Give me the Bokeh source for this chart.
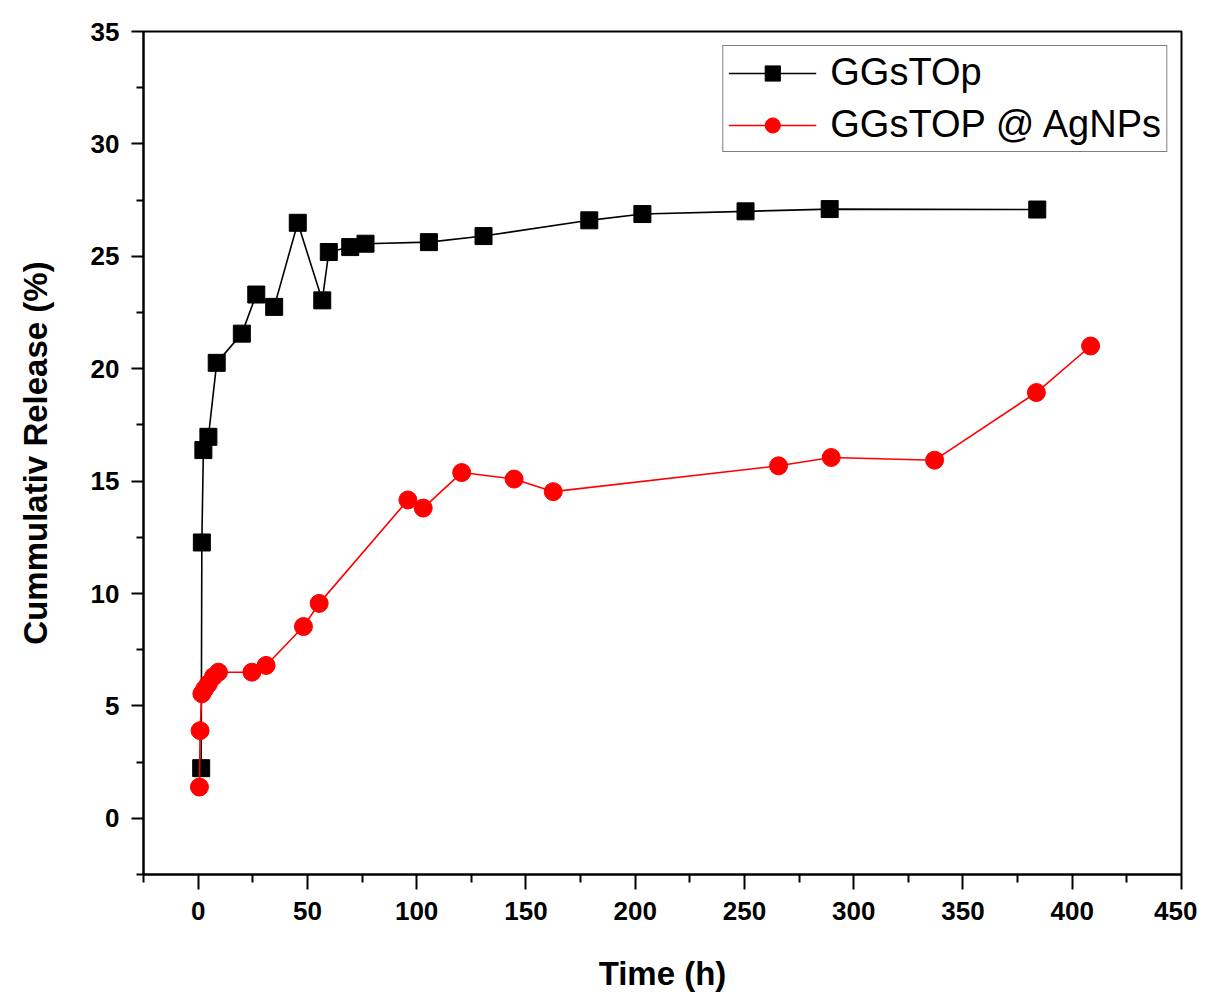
from bokeh.plotting import figure
from bokeh.models import Range1d, FixedTicker, Legend, LegendItem
from bokeh.embed import file_html
from bokeh.resources import INLINE

# ---- data ----
t_ggstop = [1.4, 1.7, 2.4, 4.7, 8.5, 20.0, 26.6, 34.8, 45.6, 56.8, 59.8, 69.6, 76.6,
            105.6, 130.6, 179.0, 203.3, 250.5, 289.0, 384.0]
rel_ggstop = [2.23, 12.27, 16.38, 16.97, 20.26, 21.56, 23.30, 22.75, 26.49, 23.04, 25.19,
              25.41, 25.56, 25.63, 25.90, 26.60, 26.88, 27.00, 27.10, 27.08]

t_agnps = [0.6, 0.9, 1.7, 3.0, 4.7, 7.0, 9.3, 24.6, 31.1, 48.2, 55.4, 96.0, 103.0,
           120.6, 144.6, 162.5, 265.6, 289.7, 337.0, 383.6, 408.4]
rel_agnps = [1.39, 3.90, 5.54, 5.75, 5.98, 6.30, 6.50, 6.50, 6.80, 8.53, 9.56, 14.16, 13.80,
             15.38, 15.09, 14.53, 15.68, 16.05, 15.93, 18.94, 21.01]

x_major = [0, 50, 100, 150, 200, 250, 300, 350, 400, 450]
x_minor = [-25, 25, 75, 125, 175, 225, 275, 325, 375, 425]
y_major = [0, 5, 10, 15, 20, 25, 30, 35]
y_minor = [-2.5, 2.5, 7.5, 12.5, 17.5, 22.5, 27.5, 32.5]

label_a = "GGsTOp"
label_b = "GGsTOP @ AgNPs"
x_title = "Time (h)"
y_title = "Cummulativ Release (%)"

FONT = "Liberation Sans"

p = figure(frame_width=1038, frame_height=843, output_backend="svg",
           toolbar_location=None, x_range=Range1d(-25, 450), y_range=Range1d(-2.5, 35),
           min_border_left=143, min_border_top=31, min_border_right=16, min_border_bottom=100,
           background_fill_color="white", border_fill_color="white")

p.xgrid.visible = False
p.ygrid.visible = False
p.outline_line_color = "black"
p.outline_line_width = 2
p.outline_line_alpha = 1

# lines + markers
la = p.line(t_ggstop, rel_ggstop, line_color="black", line_width=1.6)
sa = p.scatter(t_ggstop, rel_ggstop, marker="square", size=17, fill_color="black",
               line_color="black")
lb = p.line(t_agnps, rel_agnps, line_color="red", line_width=1.6)
sb = p.scatter(t_agnps, rel_agnps, marker="circle", size=18, fill_color="red",
               line_color="red")

# axes
for ax in (p.xaxis[0], p.yaxis[0]):
    ax.axis_line_width = 2
    ax.axis_line_color = "black"
    ax.major_tick_line_width = 2
    ax.minor_tick_line_width = 2
    ax.major_tick_line_color = "black"
    ax.minor_tick_line_color = "black"
    ax.major_tick_in = 0
    ax.minor_tick_in = 0
    ax.major_label_text_color = "black"
    ax.axis_label_text_color = "black"
    ax.axis_label_text_font_style = "bold"
    ax.major_label_text_font = FONT
    ax.major_label_text_font_style = "bold"
    ax.axis_label_text_font = FONT

p.xaxis[0].ticker = FixedTicker(ticks=x_major, minor_ticks=x_minor)
p.yaxis[0].ticker = FixedTicker(ticks=y_major, minor_ticks=y_minor)

p.xaxis[0].major_tick_out = 15
p.xaxis[0].minor_tick_out = 8
p.yaxis[0].major_tick_out = 12
p.yaxis[0].minor_tick_out = 7

p.xaxis[0].major_label_text_font_size = "26px"
p.xaxis[0].major_label_standoff = 12
p.xaxis[0].axis_label = x_title
p.xaxis[0].axis_label_text_font_size = "33px"
p.xaxis[0].axis_label_standoff = 32

p.yaxis[0].major_label_text_font_size = "26px"
p.yaxis[0].major_label_standoff = 12
p.yaxis[0].axis_label = y_title
p.yaxis[0].axis_label_text_font_size = "33px"
p.yaxis[0].axis_label_standoff = 34

legend = Legend(items=[LegendItem(label=label_a, renderers=[la, sa]),
                       LegendItem(label=label_b, renderers=[lb, sb])],
                location="top_right", margin=14, padding=5, spacing=9,
                glyph_width=88, glyph_height=38, label_height=38,
                label_standoff=14, label_text_font=FONT,
                label_text_font_size="38px", label_text_color="black",
                border_line_color="black", border_line_width=1.5,
                background_fill_alpha=1)
p.add_layout(legend)

open("out.html", "w").write(file_html(p, INLINE))
